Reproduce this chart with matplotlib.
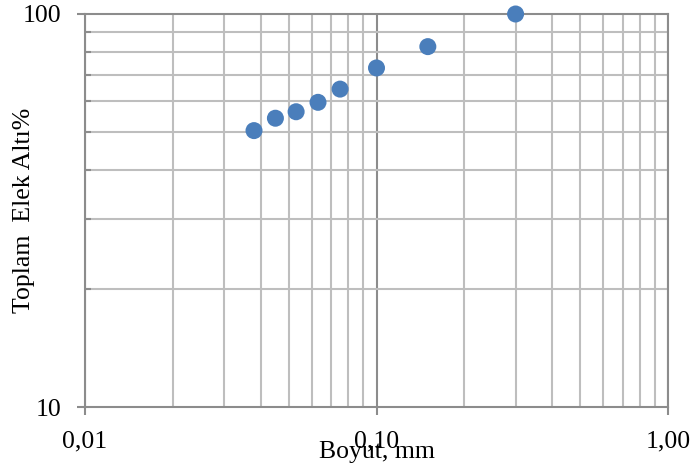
import matplotlib.pyplot as plt
from matplotlib.ticker import FixedLocator, FixedFormatter, NullFormatter

# sieve sizes (mm) and cumulative passing (%)
size_mm = [0.038, 0.045, 0.053, 0.063, 0.075, 0.10, 0.15, 0.30]
passing = [50.5, 54.3, 56.4, 59.6, 64.4, 72.9, 82.6, 100.0]

x_ticks = [0.01, 0.1, 1.0]
x_labels = ['0,01', '0,10', '1,00']
y_ticks = [10, 100]
y_labels = ['10', '100']

plt.rcParams['font.family'] = ['Liberation Serif', 'DejaVu Serif']
fs = 18.5

fig = plt.figure(figsize=(6.93, 4.73), dpi=100)
ax = fig.add_axes([85 / 693, 1 - 407 / 473, (668 - 85) / 693, (407 - 14) / 473])

ax.set_xscale('log')
ax.set_yscale('log')
ax.set_xlim(0.01, 1.0)
ax.set_ylim(10, 100)

minor_x = [k * 0.01 for k in range(2, 10)] + [k * 0.1 for k in range(2, 10)]
minor_y = [k * 10 for k in range(2, 10)]
ax.xaxis.set_major_locator(FixedLocator(x_ticks))
ax.xaxis.set_major_formatter(FixedFormatter(x_labels))
ax.xaxis.set_minor_locator(FixedLocator(minor_x))
ax.xaxis.set_minor_formatter(NullFormatter())
ax.yaxis.set_major_locator(FixedLocator(y_ticks))
ax.yaxis.set_major_formatter(FixedFormatter(y_labels))
ax.yaxis.set_minor_locator(FixedLocator(minor_y))
ax.yaxis.set_minor_formatter(NullFormatter())

ax.grid(which='minor', color='#BEBEBE', linewidth=1.5)
ax.grid(which='major', axis='x', color='#8C8C8C', linewidth=1.5)
ax.set_axisbelow(True)

for s in ax.spines.values():
    s.set_color('#8C8C8C')
    s.set_linewidth(1.5)

ax.tick_params(which='major', direction='out', length=6, width=1.5,
               color='#8C8C8C', labelsize=fs, pad=11)
ax.tick_params(axis='y', which='minor', direction='in', length=4, width=1.5,
               color='#8C8C8C')
ax.tick_params(axis='x', which='minor', length=0)

ax.scatter(size_mm, passing, s=150, color='#4A7EBB', zorder=3, clip_on=False,
           edgecolors='none')

# axis titles placed like the original (x title sits under the tick labels)
fig.text(377 / 693, 1 - 452 / 473, 'Boyut, mm', fontsize=fs,
         ha='center', va='center')
fig.text(24 / 693, 1 - 210 / 473, 'Toplam  Elek Altı%', fontsize=fs,
         rotation=90, ha='center', va='center')

fig.savefig('out.png', dpi=100)
